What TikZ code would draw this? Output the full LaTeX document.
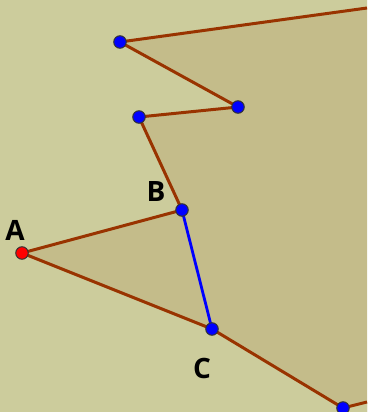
\documentclass[tikz,border=0pt]{standalone}
\usepackage{fontspec}
\setmainfont{Open Sans}
\definecolor{bg}{RGB}{204,204,156}
\definecolor{fillc}{RGB}{196,188,138}
\definecolor{edge}{RGB}{153,51,0}
\begin{document}
\begin{tikzpicture}[x=1pt,y=-1pt,
  edgeline/.style={draw=edge,line width=3pt},
  seg/.style={draw=blue,line width=2.8pt},
  pt/.style={circle,draw=black!80,line width=1pt,inner sep=0pt,minimum size=12.5pt},
  lbl/.style={font=\bfseries\fontsize{28}{28}\selectfont,text=black,inner sep=0pt}]
\fill[bg] (0,0) rectangle (367,412);
\useasboundingbox (0,0) rectangle (367,412);
\coordinate (TR) at (367,8);
\coordinate (BR) at (367,402);
\coordinate (P2c) at (120,42);
\coordinate (P3c) at (238,107);
\coordinate (P4c) at (139,117);
\coordinate (Bc) at (182,210);
\coordinate (Ac) at (22,253);
\coordinate (Cc) at (212,329);
\coordinate (P5c) at (343,408);
\fill[fillc] (Ac) -- (Bc) -- (P4c) -- (P3c) -- (P2c) -- (TR) -- (367,0) -- (367,412) -- (BR) -- (P5c) -- (Cc) -- cycle;
\fill[bg] (P5c) -- (BR) -- (367,412) -- (P5c |- 0,412) -- cycle;
\path[edgeline] (TR) -- (P2c) -- (P3c) -- (P4c) -- (Bc) -- (Ac) -- (Cc) -- (P5c) -- (BR);
\path[seg] (Bc) -- (Cc);
\node[pt,fill=blue] (P2) at (P2c) {};
\node[pt,fill=blue] (P3) at (P3c) {};
\node[pt,fill=blue] (P4) at (P4c) {};
\node[pt,fill=blue] (B) at (Bc) {};
\node[pt,fill=red] (A) at (Ac) {};
\node[pt,fill=blue] (C) at (Cc) {};
\node[pt,fill=blue] (P5) at (P5c) {};
\node[lbl] (la) at (15,230) {A};
\node[lbl] (lb) at (156,192) {B};
\node[lbl] (lc) at (202,368) {C};
\end{tikzpicture}
\end{document}
